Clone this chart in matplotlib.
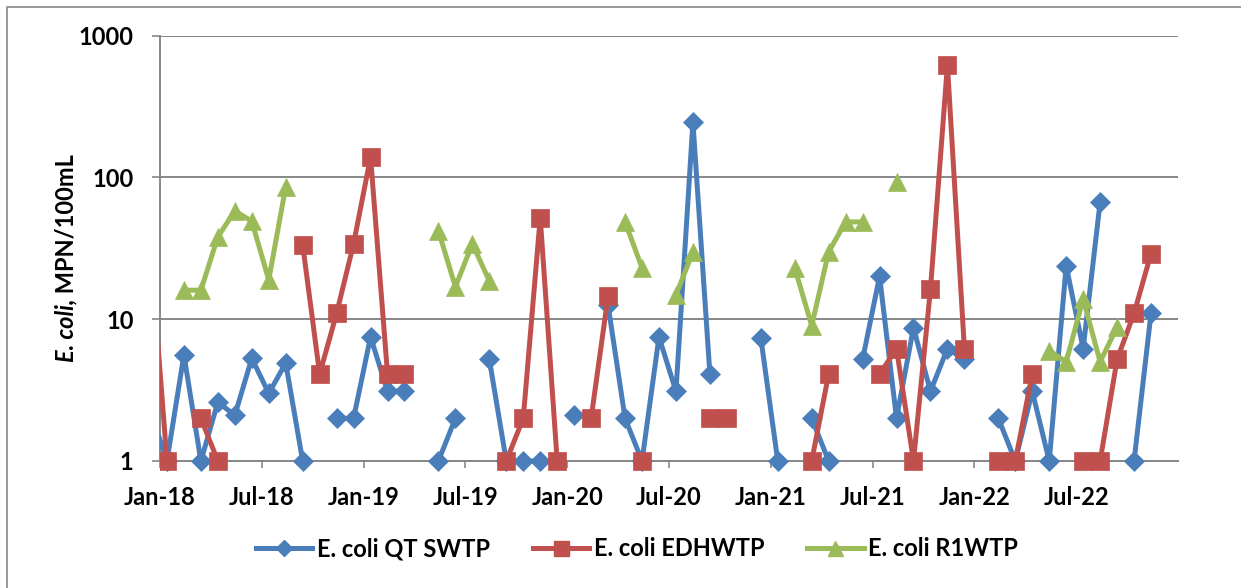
import matplotlib
matplotlib.use("Agg")
import matplotlib.pyplot as plt
import numpy as np
from matplotlib.lines import Line2D
from matplotlib.patches import Rectangle
from matplotlib.ticker import FixedLocator, NullLocator

# ---------------- data ----------------
# months: Dec-17 (partly off-axis) through Dec-22
month_labels = ["Dec-17"] + [f"{m}-{y}" for y in ["18", "19", "20", "21", "22"]
                             for m in ["Jan", "Feb", "Mar", "Apr", "May", "Jun",
                                       "Jul", "Aug", "Sep", "Oct", "Nov", "Dec"]]

qt_swtp = [
    2.3,
    1, 5.6, 1, 2.6, 2.1, 5.3, 3.0, 4.9, 1, None, 2.0, 2.0,
    7.5, 3.1, 3.1, None, 1, 2.0, None, 5.2, 1, 1, 1, None,
    2.1, None, 12.5, 2.0, 1, 7.5, 3.1, 245, 4.1, None, None, 7.4,
    1, None, 2.0, 1, None, 5.2, 20, 2.0, 8.7, 3.1, 6.2, 5.2,
    None, 2.0, 1, 3.1, 1, 23.8, 6.2, 67, None, 1, 11, None,
]
edhwtp = [
    35,
    1, None, 2.0, 1, None, None, None, None, 33.4, 4.1, 11, 34,
    139, 4.1, 4.1, None, None, None, None, None, 1, 2.0, 52, 1,
    None, 2.0, 14.6, None, 1, None, None, None, 2.0, 2.0, None, None,
    None, None, 1, 4.1, None, None, 4.1, 6.2, 1, 16.3, 620, 6.2,
    None, 1, 1, 4.1, None, None, 1, 1, 5.2, 11, 29, None,
]
r1wtp = [
    None,
    None, 16, 16, 38, 58, 49, 18.9, 86, None, None, None, None,
    None, None, None, None, 42, 16.9, 34, 18.6, None, None, None, None,
    None, None, None, 48.5, 23, None, 14.8, 29.8, None, None, None, None,
    None, 23, 9, 29.8, 48.5, 48.5, None, 92.5, None, None, None, None,
    None, None, None, None, 6.0, 5.0, 13.9, 5.0, 8.8, None, None, None,
]
series_names = ["E. coli QT SWTP", "E. coli EDHWTP", "E. coli R1WTP"]
x_tick_labels = ["Jan-18", "Jul-18", "Jan-19", "Jul-19", "Jan-20",
                 "Jul-20", "Jan-21", "Jul-21", "Jan-22", "Jul-22"]
y_ticks = [1, 10, 100, 1000]

# ---------------- style ----------------
FONT = "Lato"
FS = 17
colors = ["#4A7EBB", "#C0504D", "#9BBB59"]
markers = ["D", "s", "^"]
msizes = [9.8, 13.5, 13.5]
GRID = "#878787"
LW = 3.6

W, H = 1241, 588
fig = plt.figure(figsize=(W / 100, H / 100), dpi=100)
ax = fig.add_axes([160 / W, 1 - 461 / H, (1178 - 160) / W, (461 - 35.5) / H])

x = np.arange(len(month_labels)) - 1 + 0.41
clip = Rectangle((0, -0.1), 1.2, 1.3, transform=ax.transAxes)

handles = []
for vals, c, m, ms, name in zip([qt_swtp, edhwtp, r1wtp], colors, markers, msizes, series_names):
    y = np.array([np.nan if v is None else v for v in vals], dtype=float)
    ln, = ax.plot(x, y, color=c, lw=LW, marker=m, markersize=ms,
                  markerfacecolor=c, markeredgecolor=c, markeredgewidth=0.5,
                  solid_joinstyle="round", zorder=3)
    ln.set_clip_path(clip)
    handles.append(Line2D([], [], color=c, lw=LW, marker=m, markersize=ms * 0.8,
                          markerfacecolor=c, markeredgecolor=c, label=name))

ax.set_yscale("log")
ax.set_ylim(1, 1000)
ax.set_xlim(0, 60)
ax.yaxis.set_major_locator(FixedLocator(y_ticks))
ax.yaxis.set_minor_locator(NullLocator())
ax.set_yticklabels([str(t) for t in y_ticks])
ax.xaxis.set_major_locator(FixedLocator(np.arange(0, 60, 6)))
ax.xaxis.set_minor_locator(NullLocator())
ax.set_xticklabels(x_tick_labels)

ax.grid(axis="y", color=GRID, lw=1.4)
ax.set_axisbelow(True)
for s in ["top", "right"]:
    ax.spines[s].set_visible(False)
for s in ["left", "bottom"]:
    ax.spines[s].set_color(GRID)
    ax.spines[s].set_linewidth(1.4)
ax.tick_params(axis="y", length=6, width=1.2, color=GRID, pad=13)
ax.tick_params(axis="x", length=5, width=1.2, color=GRID, pad=13)
for lab in ax.get_xticklabels() + ax.get_yticklabels():
    lab.set_fontfamily(FONT)
    lab.set_fontweight("bold")
    lab.set_fontsize(FS)

# y label: italic "E. coli," + bold "MPN/100mL"
t1 = fig.text(66 / W, 1 - 362 / H, "E. coli,", rotation=90, rotation_mode="anchor",
              ha="left", va="center", fontfamily=FONT, fontweight="bold",
              fontstyle="italic", fontsize=FS)
ax.annotate(" MPN/100mL", xy=(0.5, 1.0), xycoords=t1, rotation=90,
            rotation_mode="anchor", ha="left", va="center", fontfamily=FONT,
            fontweight="bold", fontsize=FS, annotation_clip=False)

# legend
fig.legend(handles=handles, loc="center", bbox_to_anchor=(637 / W, 1 - 549 / H),
           ncol=3, frameon=False, prop={"family": FONT, "weight": "bold", "size": FS},
           handlelength=2.4, handletextpad=0.2, columnspacing=1.8)

# chart-area border (extends past right and bottom of the image)
fig.add_artist(Line2D([7 / W, 7 / W, 1.01], [-0.01, 1 - 7 / H, 1 - 7 / H],
                      transform=fig.transFigure, color=GRID, lw=1.2))

fig.savefig("out.png", dpi=100)
